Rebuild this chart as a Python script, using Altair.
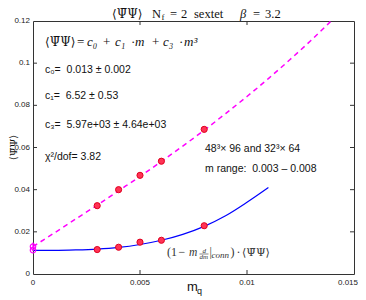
import altair as alt
import pandas as pd

# ---- data ----
m_data = [0.003, 0.004, 0.005, 0.006, 0.008]
pbp_full = [0.0324, 0.0400, 0.0468, 0.0535, 0.0686]
pbp_sub = [0.0116, 0.0127, 0.0151, 0.0160, 0.0229]

m_extrap = [0.0, 0.0]
pbp_extrap = [0.0130, 0.0113]
pbp_extrap_err = [0.0020, 0.0005]

m_fit = [0.0, 0.001, 0.002, 0.003, 0.004, 0.005, 0.006, 0.007, 0.008,
         0.009, 0.010, 0.011, 0.012, 0.013, 0.0139]
fit_full = [0.0130, 0.0195, 0.0261, 0.0327, 0.0395, 0.0463, 0.0534, 0.0607,
            0.0682, 0.0761, 0.0842, 0.0927, 0.1016, 0.1109, 0.1197]

m_fit_sub = [0.0, 0.001, 0.002, 0.003, 0.004, 0.005, 0.006, 0.007, 0.008,
             0.009, 0.010, 0.011]
fit_sub = [0.0112, 0.0112, 0.0114, 0.0118, 0.0126, 0.0140, 0.0160, 0.0188,
           0.0226, 0.0276, 0.0340, 0.0410]

x_ticks = [0, 0.005, 0.01, 0.015]
x_tick_labels = ["0", "0.005", "0.01", "0.015"]
y_ticks = [0, 0.02, 0.04, 0.06, 0.08, 0.1, 0.12]
y_tick_labels = ["0", "0.02", "0.04", "0.06", "0.08", "0.1", "0.12"]

W, H = 321, 253
SANS = "Liberation Sans"
SERIF = "Liberation Serif"
MATH = "DejaVu Serif"
NB = "\u00a0"
PB = "\u27e8\u03a8\u0304\u03a8\u27e9"  # <Psi-bar Psi>

xs = alt.Scale(domain=[0, 0.015], nice=False, zero=False)
ys = alt.Scale(domain=[0, 0.12], nice=False, zero=False)

pts = pd.DataFrame({"m": m_data, "full": pbp_full, "sub": pbp_sub})
ext = pd.DataFrame({"m": m_extrap, "v": pbp_extrap,
                    "lo": [v - e for v, e in zip(pbp_extrap, pbp_extrap_err)],
                    "hi": [v + e for v, e in zip(pbp_extrap, pbp_extrap_err)]})
fitdf = pd.DataFrame({"m": m_fit, "v": fit_full})
subdf = pd.DataFrame({"m": m_fit_sub, "v": fit_sub})

X = alt.X("m:Q", scale=xs, axis=None)
Y = alt.Y("v:Q", scale=ys, axis=None)

dashed = alt.Chart(fitdf).mark_line(color="#ff00ff", strokeWidth=1.5,
                                    strokeDash=[5, 4], interpolate="monotone").encode(x=X, y=Y)
solid = alt.Chart(subdf).mark_line(color="#0000ff", strokeWidth=1.2,
                                   interpolate="monotone").encode(x="m:Q", y="v:Q")

pts_full = alt.Chart(pts).mark_circle(size=38, color="#ff3355", stroke="#e00020",
                                      strokeWidth=1, opacity=1).encode(x="m:Q", y="full:Q")
pts_sub = alt.Chart(pts).mark_circle(size=38, color="#ff3355", stroke="#e00020",
                                     strokeWidth=1, opacity=1).encode(x="m:Q", y="sub:Q")
ext_bar = alt.Chart(ext).mark_rule(color="#ff00ff", strokeWidth=1.2).encode(
    x="m:Q", y="lo:Q", y2="hi:Q")
ext_pts = alt.Chart(ext).mark_point(size=30, color="#ff00ff", filled=False,
                                    strokeWidth=1.2, opacity=1).encode(x="m:Q", y="v:Q")

# inside ticks (MATLAB style) and tick labels
xt = pd.DataFrame({"t": x_ticks, "lab": x_tick_labels})
yt = pd.DataFrame({"t": y_ticks, "lab": y_tick_labels})
xt_in = xt.iloc[1:-1]
yt_in = yt.iloc[1:-1]
tick_style = dict(color="#333", strokeWidth=1)
tb = alt.Chart(xt_in).mark_rule(**tick_style).encode(x=alt.X("t:Q", scale=xs), y=alt.value(H), y2=alt.value(H - 4))
tt = alt.Chart(xt_in).mark_rule(**tick_style).encode(x=alt.X("t:Q", scale=xs), y=alt.value(0), y2=alt.value(4))
tl = alt.Chart(yt_in).mark_rule(**tick_style).encode(y=alt.Y("t:Q", scale=ys), x=alt.value(0), x2=alt.value(4))
tr = alt.Chart(yt_in).mark_rule(**tick_style).encode(y=alt.Y("t:Q", scale=ys), x=alt.value(W), x2=alt.value(W - 4))

lab_style = dict(font=SANS, fontSize=8, color="#222")
xlab = alt.Chart(xt.iloc[:-1]).mark_text(align="center", baseline="alphabetic", **lab_style).encode(
    x=alt.X("t:Q", scale=xs), y=alt.value(H + 11), text="lab:N")
xlab_last = alt.Chart(xt.iloc[-1:]).mark_text(align="right", baseline="alphabetic", dx=4, **lab_style).encode(
    x=alt.X("t:Q", scale=xs), y=alt.value(H + 11), text="lab:N")
ylab = alt.Chart(yt).mark_text(align="right", baseline="middle", **lab_style).encode(
    y=alt.Y("t:Q", scale=ys), x=alt.value(-3), text="lab:N")

one = pd.DataFrame({"a": [0]})


def txt(s, x, y, size=10, font=SANS, style="normal", align="left", angle=0,
        baseline="alphabetic", color="#111"):
    return alt.Chart(one).mark_text(text=s, fontSize=size, font=font, fontStyle=style,
                                    align=align, angle=angle, baseline=baseline,
                                    color=color).encode(x=alt.value(x), y=alt.value(y))


TY = -3   # title baseline
FY = 25   # formula baseline
LY = 235  # lower label baseline
texts = [
    # title
    txt(PB, 79, TY, size=12, font=MATH),
    txt("N", 119, TY, size=12.5, font=SERIF),
    txt("f", 128.5, TY + 2, size=9, font=SERIF),
    txt("=", 137, TY, size=12.5, font=SERIF),
    txt("2", 148, TY, size=12.5, font=SERIF),
    txt("sextet", 161, TY, size=12.5, font=SERIF),
    txt("\u03b2", 207, TY, size=12.5, font=SERIF, style="italic"),
    txt("=", 220, TY, size=12.5, font=SERIF),
    txt("3.2", 232, TY, size=12.5, font=SERIF),
    # formula
    txt(PB, 12, FY, size=12, font=MATH),
    txt("=", 44, FY, size=13, font=SERIF),
    txt("c\u2080", 54, FY, size=13, font=SERIF, style="italic"),
    txt("+", 70, FY, size=13, font=SERIF),
    txt("c\u2081", 82, FY, size=13, font=SERIF, style="italic"),
    txt("\u00b7", 98, FY, size=13, font=SERIF),
    txt("m", 102, FY, size=13, font=SERIF, style="italic"),
    txt("+", 119, FY, size=13, font=SERIF),
    txt("c\u2083", 130, FY, size=13, font=SERIF, style="italic"),
    txt("\u00b7", 146, FY, size=13, font=SERIF),
    txt("m\u00b3", 151, FY, size=13, font=SERIF, style="italic"),
    # fit parameters
    txt("c\u2080=" + NB * 2 + "0.013 \u00b1 0.002", 12, 52, size=10.5),
    txt("c\u2081=" + NB * 2 + "6.52 \u00b1 0.53", 12, 78, size=10.5),
    txt("c\u2083=" + NB * 2 + "5.97e+03 \u00b1 4.64e+03", 12, 107, size=10.5),
    txt("\u03c7\u00b2/dof= 3.82", 12, 139, size=10.5),
    txt("48\u00b3\u00d7 96 and 32\u00b3\u00d7 64", 172, 131, size=10.5),
    txt("m range:" + NB * 2 + "0.003 \u2013 0.008", 172, 151, size=10.5),
    # lower curve label
    txt("(1", 134, LY, size=12, font=SERIF, color="#333"),
    txt("\u2212", 145.5, LY, size=12, font=SERIF, color="#333"),
    txt("m", 156, LY, size=11.5, font=SERIF, style="italic", color="#333"),
    txt("d", 169.5, LY - 3.5, size=7, font=SERIF, style="italic", color="#333"),
    txt("dm", 166.5, LY + 3, size=7, font=SERIF, style="italic", color="#333"),
    txt("|", 176.5, LY, size=12, font=SERIF, color="#333"),
    txt("conn", 178.5, LY + 1.5, size=9, font=SERIF, style="italic", color="#333"),
    txt(")", 197.5, LY, size=12, font=SERIF, color="#333"),
    txt("\u00b7", 203.5, LY, size=12, font=SERIF, color="#333"),
    txt(PB, 209, LY, size=11, font=MATH, color="#333"),
    # axis titles
    txt("m", 154, 270, size=13),
    txt("q", 164, 272.5, size=9),
    txt(PB, -19.5, H / 2, size=10, font=MATH, align="center", angle=270, baseline="middle"),
]

frac_bar = alt.Chart(one).mark_rule(color="#333", strokeWidth=0.6).encode(
    x=alt.value(166.5), x2=alt.value(175.5), y=alt.value(LY - 2))

chart = alt.layer(dashed, solid, ext_bar, ext_pts, pts_full, pts_sub,
                  tb, tt, tl, tr, xlab, xlab_last, ylab, frac_bar, *texts).properties(
    width=W, height=H,
    autosize=alt.AutoSizeParams(type="none"),
    padding={"left": 25, "top": 13, "right": 4, "bottom": 22},
).configure_view(stroke="#333", strokeWidth=1)

chart.save("out.html", embed_options={"renderer": "svg", "actions": False})
